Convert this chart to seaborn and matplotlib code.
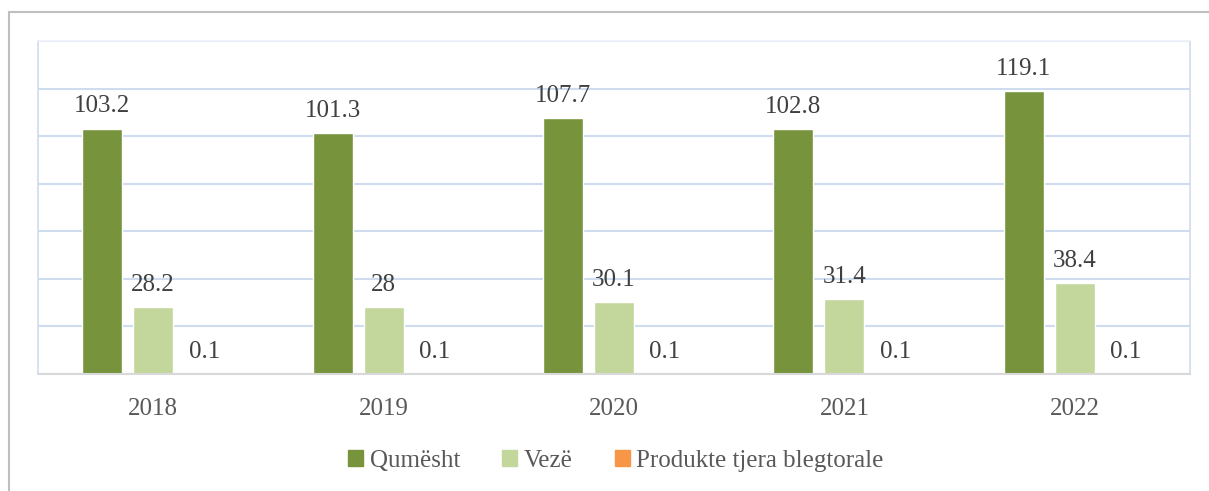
import pandas as pd
import matplotlib.pyplot as plt
import matplotlib.patches as mpatches
import seaborn as sns

# Data
years = ['2018', '2019', '2020', '2021', '2022']
qumesht = [103.2, 101.3, 107.7, 102.8, 119.1]
veze = [28.2, 28, 30.1, 31.4, 38.4]
produkte_tjera = [0.1, 0.1, 0.1, 0.1, 0.1]
series_names = ['Qumësht', 'Vezë', 'Produkte tjera blegtorale']
colors = ['#77933C', '#C3D69B', '#F79646']

df = pd.DataFrame({
    'Viti': years * 3,
    'Vlera': qumesht + veze + produkte_tjera,
    'Seria': [series_names[0]] * 5 + [series_names[1]] * 5 + [series_names[2]] * 5,
})

sns.set_style('white')
plt.rcParams['font.family'] = ['Liberation Serif', 'DejaVu Serif']

fig = plt.figure(figsize=(12.09, 4.91), dpi=100)
ax = fig.add_axes([38 / 1209, 117 / 491, 1152 / 1209, 333 / 491])

sns.barplot(data=df, x='Viti', y='Vlera', hue='Seria', palette=colors,
            width=0.664, gap=0.216, ax=ax, legend=False, saturation=1)

for cont in ax.containers:
    ax.bar_label(cont, labels=[f'{v:g}' for v in cont.datavalues],
                 padding=8, fontsize=18, color='#404040')

ax.set_ylim(0, 140)
ax.set_yticks(range(0, 141, 20))
ax.set_yticklabels([])
ax.yaxis.grid(True, color='#CFDBEE', linewidth=1.5)
ax.set_axisbelow(True)
ax.tick_params(axis='x', length=0, pad=17, labelsize=18, labelcolor='#595959')
ax.tick_params(axis='y', length=0)
ax.set_xlabel('')
ax.set_ylabel('')
for side in ['left', 'right', 'top']:
    ax.spines[side].set_color('#CFDBEE')
    ax.spines[side].set_linewidth(1.2)
ax.spines['top'].set_color('#EEF2F9')
ax.spines['bottom'].set_color('#D9D9D9')
ax.spines['bottom'].set_linewidth(1.5)

handles = [mpatches.Patch(color=c, label=n) for c, n in zip(colors, series_names)]
fig.legend(handles=handles, loc='center', bbox_to_anchor=(616 / 1209, 1 - 461 / 491),
           ncol=3, frameon=False, fontsize=18, labelcolor='#595959',
           handlelength=0.6, handleheight=0.6, handletextpad=0.25, columnspacing=1.7)

# outer chart border (top and left edge visible)
fig.add_artist(plt.Line2D([9 / 1209, 1], [1 - 12 / 491, 1 - 12 / 491],
                          transform=fig.transFigure, color='#BFBFBF', linewidth=1.5))
fig.add_artist(plt.Line2D([9 / 1209, 9 / 1209], [0, 1 - 12 / 491],
                          transform=fig.transFigure, color='#BFBFBF', linewidth=1.5))

fig.savefig('out.png', dpi=100)
